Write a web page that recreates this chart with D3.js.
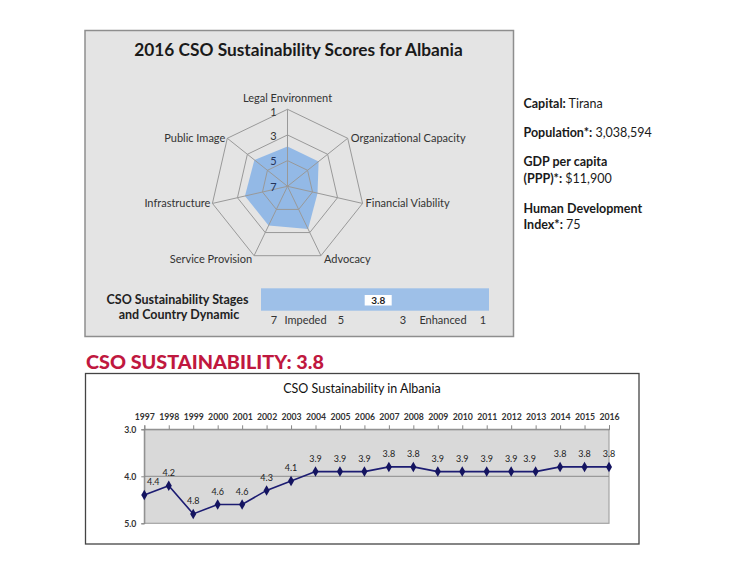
<!DOCTYPE html>
<html><head><meta charset="utf-8">
<script src="https://cdn.jsdelivr.net/npm/d3@7/dist/d3.min.js"></script>
<style>
html,body{margin:0;padding:0;background:#fff;}
svg{display:block;}
</style></head>
<body>
<script>
// ---- Data ----
const radarAxes = ["Legal Environment","Organizational Capacity","Financial Viability","Advocacy","Service Provision","Infrastructure","Public Image"];
const radarScores = [3.9, 3.9, 4.6, 3.3, 3.6, 3.6, 3.7];
const radarRingValues = [1, 3, 5, 7];
const overallScore = 3.8;
const stageTicks = [7, 5, 3, 1];
const stageWords = [{label:"Impeded", between:[7,5]}, {label:"Enhanced", between:[3,1]}];
const infoLabels = ["Capital:", "Population*:", "GDP per capita", "(PPP)*:", "Human Development", "Index*:"];
const infoValues = [" Tirana", " 3,038,594", "", " $11,900", "", " 75"];
const years = ["1997","1998","1999","2000","2001","2002","2003","2004","2005","2006","2007","2008","2009","2010","2011","2012","2013","2014","2015","2016"];
const scores = [4.4,4.2,4.8,4.6,4.6,4.3,4.1,3.9,3.9,3.9,3.8,3.8,3.9,3.9,3.9,3.9,3.9,3.8,3.8,3.8];
const yTicks = [3.0, 4.0, 5.0];

const W = 732, H = 566;
const svg = d3.select("body").append("svg").attr("width", W).attr("height", H);
const FONT = "Lato, 'Open Sans', sans-serif";

// ---- Top panel ----
svg.append("rect").attr("x", 85).attr("y", 30.5).attr("width", 428.5).attr("height", 306)
  .attr("fill", "#e4e4e4").attr("stroke", "#8e8e8e").attr("stroke-width", 1.5);
svg.append("text").attr("x", 298.5).attr("y", 56).attr("text-anchor", "middle")
  .attr("font-family", FONT).attr("font-weight", "bold").attr("font-size", 17.3).attr("fill", "#1a1a1a")
  .text("2016 CSO Sustainability Scores for Albania");

// Radar
const cx = 287.5, cy = 186.3, R = 77;
const rScale = d3.scaleLinear().domain([7, 1]).range([0, R]);
const n = radarAxes.length;
const ang = i => i * 2 * Math.PI / n;
const pt = (i, v) => [cx + rScale(v) * Math.sin(ang(i)), cy - rScale(v) * Math.cos(ang(i))];
const g = svg.append("g");
const line = d3.line();
g.append("path").attr("d", line(radarScores.map((v, i) => pt(i, v))) + "Z")
  .attr("fill", "#93b9e6").attr("stroke", "none");
radarRingValues.filter(v => v < 7).forEach(v => {
  g.append("path").attr("d", line(radarAxes.map((a, i) => pt(i, v))) + "Z")
    .attr("fill", "none").attr("stroke", "#999").attr("stroke-width", 1);
});
radarAxes.forEach((a, i) => {
  const p = pt(i, 1);
  g.append("line").attr("x1", cx).attr("y1", cy).attr("x2", p[0]).attr("y2", p[1])
    .attr("stroke", "#999").attr("stroke-width", 1);
});
radarRingValues.forEach(v => {
  g.append("text").attr("x", cx - 14).attr("y", cy - rScale(v) + (v === 1 ? 2.5 : 1)).attr("dy", "0.35em")
    .attr("text-anchor", "middle").attr("font-family", FONT).attr("font-size", 11)
    .attr("fill", v >= 5 ? "#24345a" : "#333").text(v);
});
radarAxes.forEach((a, i) => {
  const p = pt(i, 1);
  const s = Math.sin(ang(i)), c = Math.cos(ang(i));
  let x = p[0], y = p[1], anchor = "middle";
  if (Math.abs(s) < 0.01) { y = p[1] - 11; }
  else if (s > 0) { anchor = "start"; x = p[0] + 3; }
  else { anchor = "end"; x = p[0] - 2; }
  if (c < -0.5) y = p[1] + 3;
  g.append("text").attr("x", x).attr("y", y).attr("dy", "0.35em").attr("text-anchor", anchor)
    .attr("font-family", FONT).attr("font-size", 11).attr("fill", "#333").text(a);
});

// Stages bar
const sx = d3.scaleLinear().domain(stageTicks).range([274, 341, 403, 483]);
svg.append("rect").attr("x", 261).attr("y", 288.3).attr("width", 228).attr("height", 22.4).attr("fill", "#9ec0e8");
svg.append("rect").attr("x", sx(overallScore) - 13.5).attr("y", 295).attr("width", 27).attr("height", 10.5).attr("fill", "#fff");
svg.append("text").attr("x", sx(overallScore)).attr("y", 300.3).attr("dy", "0.35em").attr("text-anchor", "middle")
  .attr("font-family", FONT).attr("font-weight", "bold").attr("font-size", 10).attr("fill", "#222").text(overallScore.toFixed(1));
stageTicks.forEach(t => {
  svg.append("text").attr("x", sx(t)).attr("y", 320).attr("dy", "0.35em").attr("text-anchor", "middle")
    .attr("font-family", FONT).attr("font-size", 11).attr("fill", "#333").text(t);
});
stageWords.forEach(w => {
  svg.append("text").attr("x", (sx(w.between[0]) + sx(w.between[1])) / 2 + (w.label === "Impeded" ? -2 : 0)).attr("y", 320).attr("dy", "0.35em")
    .attr("text-anchor", "middle").attr("font-family", FONT).attr("font-size", 11).attr("fill", "#333").text(w.label);
});
svg.append("text").attr("x", 177.5).attr("y", 300).attr("dy", "0.35em").attr("text-anchor", "middle")
  .attr("font-family", FONT).attr("font-weight", "bold").attr("font-size", 12.5).attr("fill", "#222").text("CSO Sustainability Stages");
svg.append("text").attr("x", 179).attr("y", 314.3).attr("dy", "0.35em").attr("text-anchor", "middle")
  .attr("font-family", FONT).attr("font-weight", "bold").attr("font-size", 12.5).attr("fill", "#222").text("and Country Dynamic");

// ---- Right info ----
const infoY = [103.3, 132.7, 161.7, 178.3, 208.3, 225];
infoLabels.forEach((lab, i) => {
  const t = svg.append("text").attr("x", 523.5).attr("y", infoY[i]).attr("dy", "0.35em")
    .attr("font-family", FONT).attr("font-size", 12.5).attr("fill", "#1a1a1a");
  t.append("tspan").attr("font-weight", "bold").text(lab);
  if (infoValues[i]) t.append("tspan").attr("font-weight", "normal").text(infoValues[i]);
});

// ---- Heading ----
svg.append("text").attr("x", 86).attr("y", 362.5).attr("dy", "0.35em")
  .attr("font-family", FONT).attr("font-weight", "900").attr("font-size", 19.8).attr("fill", "#c0183f")
  .text("CSO SUSTAINABILITY: " + overallScore.toFixed(1));

// ---- Line chart ----
svg.append("rect").attr("x", 85.5).attr("y", 373.5).attr("width", 553.5).attr("height", 170.5)
  .attr("fill", "#fff").attr("stroke", "#444").attr("stroke-width", 1.3);
svg.append("text").attr("x", 362).attr("y", 389).attr("dy", "0.35em").attr("text-anchor", "middle")
  .attr("font-family", FONT).attr("font-size", 12.5).attr("fill", "#111").text("CSO Sustainability in Albania");

const x = d3.scalePoint().domain(years).range([144.3, 609]);
const y = d3.scaleLinear().domain([3, 5]).range([429.3, 523.3]);
svg.append("rect").attr("x", x(years[0])).attr("y", y(3)).attr("width", x(years[years.length-1]) - x(years[0]))
  .attr("height", y(5) - y(3)).attr("fill", "#d9d9d9").attr("stroke", "#a3a3a3").attr("stroke-width", 1.2);
yTicks.filter(t => t > 3 && t < 5).forEach(t => {
  svg.append("line").attr("x1", x(years[0])).attr("x2", x(years[years.length-1])).attr("y1", y(t)).attr("y2", y(t))
    .attr("stroke", "#8a8a8a").attr("stroke-width", 1);
});
const xAxis = svg.append("g").attr("transform", `translate(0,${y(3)})`)
  .call(d3.axisTop(x).tickSize(4).tickPadding(5));
xAxis.select(".domain").attr("stroke", "#888");
xAxis.selectAll(".tick line").attr("stroke", "#888");
xAxis.selectAll(".tick text").attr("font-family", FONT).attr("font-size", 8.7).attr("font-weight", "bold").attr("fill", "#333");
const yAxis = svg.append("g").attr("transform", `translate(${x(years[0])},0)`)
  .call(d3.axisLeft(y).tickValues(yTicks).tickFormat(d3.format(".1f")).tickSize(3).tickPadding(5));
yAxis.select(".domain").attr("stroke", "#888");
yAxis.selectAll(".tick line").attr("stroke", "#888");
yAxis.selectAll(".tick text").attr("font-family", FONT).attr("font-size", 8.7).attr("font-weight", "bold").attr("fill", "#333");

svg.append("path").datum(scores.map((v, i) => [x(years[i]), y(v)]))
  .attr("d", d3.line()).attr("fill", "none").attr("stroke", "#1c1c72").attr("stroke-width", 1.6);
svg.selectAll(".mk").data(scores).enter().append("path")
  .attr("transform", (d, i) => `translate(${x(years[i])},${y(d)})`)
  .attr("d", d3.symbol().type(d3.symbolDiamond).size(32)).attr("fill", "#141460");
svg.selectAll(".dl").data(scores).enter().append("text")
  .attr("x", (d, i) => x(years[i]) + (i === 0 ? 9 : (i === 16 ? -6 : 0)))
  .attr("y", d => y(d) - 13).attr("dy", "0.35em").attr("text-anchor", "middle")
  .attr("font-family", FONT).attr("font-size", 9).attr("fill", "#222").text(d => d.toFixed(1));
</script>
</body></html>
